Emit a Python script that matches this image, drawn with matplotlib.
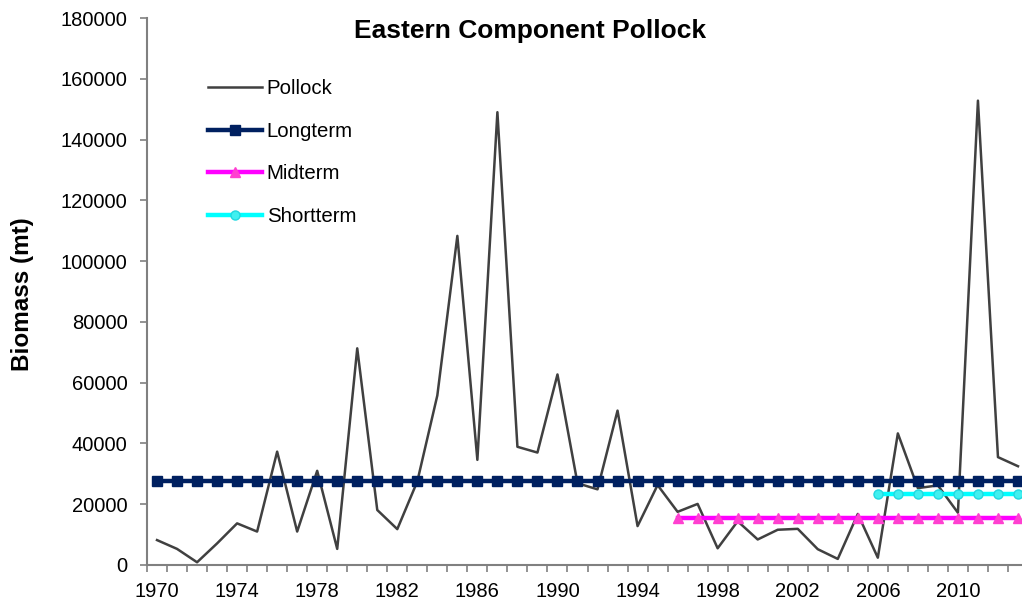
import matplotlib.pyplot as plt

years = list(range(1970, 2014))
pollock = [8200, 5300, 900, 7100, 13700, 11000, 37300, 11000, 31000, 5300,
           71300, 18100, 11800, 27500, 55800, 108300, 34600, 149000, 38900, 37000,
           62700, 26900, 24900, 50800, 12800, 26300, 17500, 20100, 5500, 14400,
           8400, 11600, 11900, 5200, 2000, 16800, 2400, 43300, 25300, 26200,
           17200, 152800, 35500, 32500]
longterm_val = 27500
midterm_val = 15400
shortterm_val = 23200
mid_start = 1996
short_start = 2006

x = list(range(len(years)))
xm = [i for i in x if years[i] >= mid_start]
xs = [i for i in x if years[i] >= short_start]

plt.rcParams['font.family'] = ['Liberation Sans', 'DejaVu Sans']
fig = plt.figure(figsize=(10.22, 6.04), dpi=100)
ax = fig.add_axes([147/1022, 39/604, 881/1022, 547/604])

ax.plot(x, pollock, color='#404040', lw=1.8, label='Pollock', zorder=3)
ax.plot(x, [longterm_val]*len(x), color='#002060', lw=3.2, marker='s', ms=7,
        label='Longterm', zorder=4)
ax.plot(xm, [midterm_val]*len(xm), color='#FF00FF', lw=3.2, marker='^', ms=7,
        mfc='#FF40D0', mec='#FF40D0', label='Midterm', zorder=4)
ax.plot(xs, [shortterm_val]*len(xs), color='#00FFFF', lw=3.2, marker='o', ms=6.5,
        mfc='#40F0F0', mec='#20D8E0', label='Shortterm', zorder=4)

ax.set_xlim(-0.5, len(x) - 0.5)
ax.set_ylim(0, 180000)
ax.set_yticks(range(0, 180001, 20000))
ax.set_xticks([i - 0.5 for i in x] + [len(x) - 0.5])
ax.set_xticklabels([])
ax.set_xticks(x[::4], minor=True)
ax.set_xticklabels([str(y) for y in years[::4]], minor=True)
ax.tick_params(axis='x', which='major', length=5, width=1.2, color='#808080', direction='out')
ax.tick_params(axis='x', which='minor', length=0, labelsize=14.5, pad=12)
ax.tick_params(axis='y', length=5, width=1.2, color='#808080', labelsize=14.5, pad=9)

for s in ['top', 'right']:
    ax.spines[s].set_visible(False)
for s in ['left', 'bottom']:
    ax.spines[s].set_color('#808080')
    ax.spines[s].set_linewidth(1.5)

fig.text(23/1022, 1 - 294/604, 'Biomass (mt)', fontsize=17.5, fontweight='bold',
         rotation=90, ha='center', va='center')
fig.text(530/1022, 1 - 31/604, 'Eastern Component Pollock', fontsize=19,
         fontweight='bold', ha='center', va='center')

ax.legend(loc='upper left', bbox_to_anchor=(190/1022, 1 - 61/604),
          bbox_transform=fig.transFigure, frameon=False, fontsize=14.7,
          numpoints=1, handlelength=2.65, handletextpad=0.2, labelspacing=1.15)

fig.savefig('out.png', dpi=100)
